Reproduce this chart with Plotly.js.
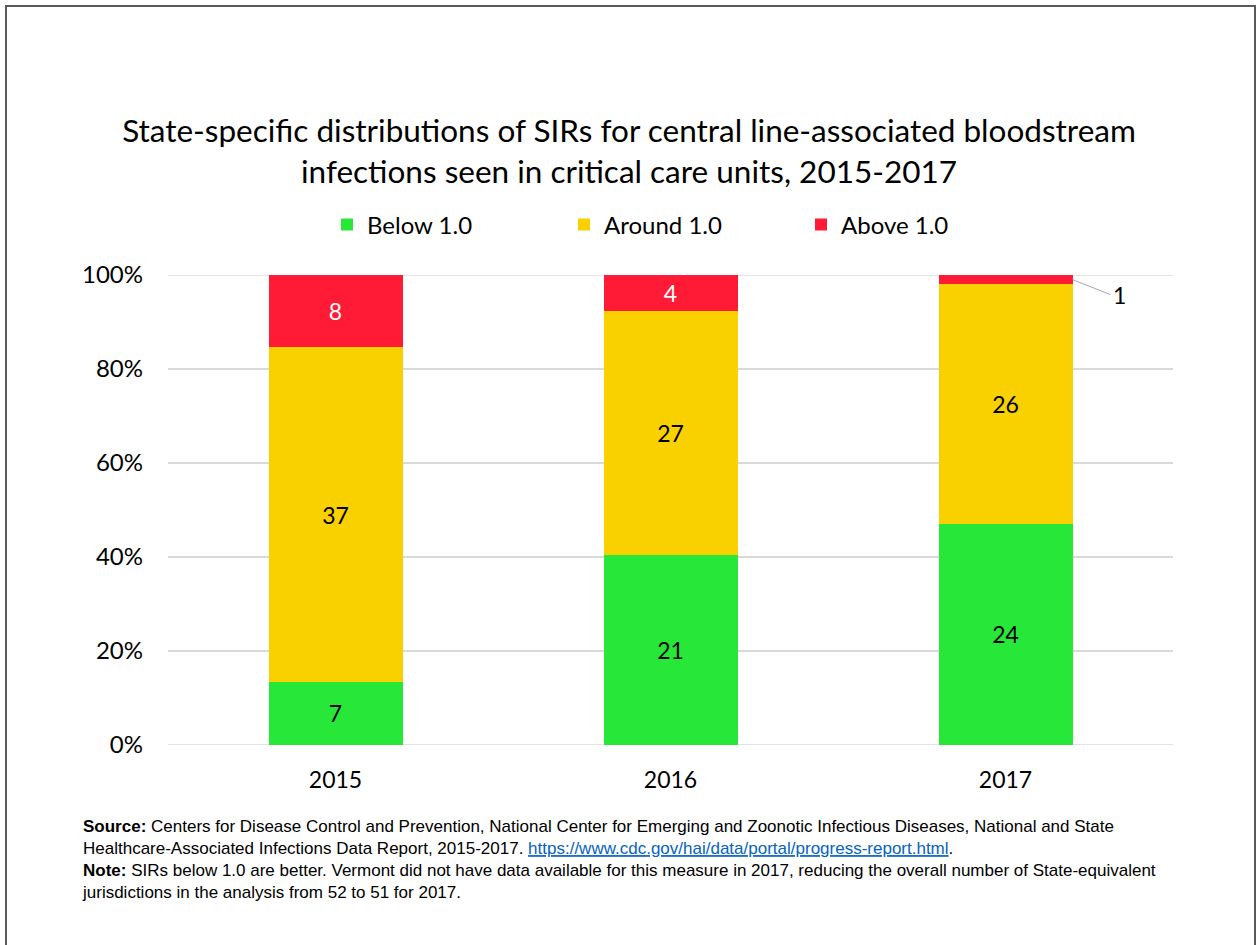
<!DOCTYPE html>
<html>
<head>
<meta charset="utf-8">
<script src="https://cdn.plot.ly/plotly-3.0.1.min.js"></script>
<style>
  html, body { margin:0; padding:0; background:#fff; }
  #wrap { position:relative; width:1258px; height:945px; overflow:hidden; }
  #chart { position:absolute; left:0; top:0; width:1258px; height:945px; }
  #frame { position:absolute; left:5px; top:5px; width:1247px; height:960px;
           border:2px solid #5a5a5a; pointer-events:none; }
</style>
</head>
<body>
<div id="wrap"><div id="chart"></div><div id="frame"></div></div>
<script>
const years = ['2015', '2016', '2017'];
const below = [7, 21, 24];
const around = [37, 27, 26];
const above = [8, 4, 1];
const seriesNames = ['Below 1.0', 'Around 1.0', 'Above 1.0'];
const seriesColors = ['#27E838', '#F9D100', '#FF1A35'];
const yTickVals = [0, 20, 40, 60, 80, 100];
const yTickText = ['0%', '20%', '40%', '60%', '80%', '100%'];

const mainFont = 'Lato, "Open Sans", sans-serif';
const noteFont = '"Liberation Sans Narrow", "Liberation Sans", Arial, sans-serif';

const seriesValues = [below, around, above];
const traces = seriesValues.map((vals, i) => {
  const textColors = vals.map(() => (i === 2 ? '#ffffff' : '#000000'));
  const txt = vals.map((v, j) => (i === 2 && j === 2) ? '' : String(v));
  return {
    type: 'bar',
    name: seriesNames[i],
    x: years,
    y: vals,
    text: txt,
    textposition: 'inside',
    insidetextanchor: 'middle',
    textangle: 0,
    textfont: { family: mainFont, size: 23, color: textColors },
    marker: { color: seriesColors[i], line: { width: 0 } },
    hoverinfo: 'skip'
  };
});

const tot2017 = below[2] + around[2] + above[2];

// gridlines at the range ends (0% and 100%) that Plotly would clip
const endGrid = [yTickVals[0], yTickVals[yTickVals.length - 1]].map(v => ({
  type: 'line', xref: 'paper', yref: 'y', x0: 0, x1: 1, y0: v, y1: v,
  line: { color: '#d9d9d9', width: 1.5 }, layer: 'below'
}));

const layout = {
  width: 1258,
  height: 945,
  paper_bgcolor: '#ffffff',
  plot_bgcolor: '#ffffff',
  barmode: 'stack',
  barnorm: 'percent',
  bargap: 0.6,
  margin: { l: 168, r: 85, t: 275, b: 200 },
  title: {
    text: 'State-specific distributions of SIRs for central line-associated bloodstream<br>infections seen in critical care units, 2015-2017',
    font: { family: mainFont, size: 31.5, color: '#000000' },
    x: 0.5, xanchor: 'center',
    y: 1 - 142 / 945, yanchor: 'middle',
    yref: 'container'
  },
  showlegend: true,
  legend: {
    orientation: 'h',
    x: (327 - 168) / 1005, xanchor: 'left',
    y: (745 - 225) / 470, yanchor: 'middle',
    font: { family: mainFont, size: 24, color: '#000000' },
    traceorder: 'normal',
    entrywidth: 192,
    entrywidthmode: 'pixels',
    itemclick: false
  },
  xaxis: {
    type: 'category',
    tickfont: { family: mainFont, size: 23, color: '#000000' },
    showgrid: false,
    zeroline: false,
    showline: false,
    ticks: '',
    ticklabelstandoff: 19
  },
  yaxis: {
    range: [0, 100],
    tickvals: yTickVals,
    ticktext: yTickText,
    tickfont: { family: mainFont, size: 24, color: '#000000' },
    showgrid: true,
    gridcolor: '#d9d9d9',
    gridwidth: 1.5,
    zeroline: false,
    showline: false,
    ticks: '',
    ticklabelstandoff: 24
  },
  shapes: endGrid,
  annotations: [
    {
      x: 2 + 0.2, y: 100 - (above[2] / tot2017) * 100 * 0.5,
      xref: 'x', yref: 'y',
      text: String(above[2]),
      showarrow: true,
      arrowhead: 0,
      arrowwidth: 1,
      arrowcolor: '#a6a6a6',
      ax: 38, ay: 15,
      xanchor: 'left',
      font: { family: mainFont, size: 23, color: '#000000' }
    },
    {
      xref: 'paper', yref: 'paper',
      x: (80 - 168) / 1005, y: -(815 - 745) / 470,
      xanchor: 'left', yanchor: 'top',
      align: 'left',
      showarrow: false,
      text: '<b>Source:</b> Centers for Disease Control and Prevention, National Center for Emerging and Zoonotic Infectious Diseases, National and State<br>' +
            'Healthcare-Associated Infections Data Report, 2015-2017. <span style="color:#0563C1"><u>https://www.cdc.gov/hai/data/portal/progress-report.html</u></span>.<br>' +
            '<b>Note:</b> SIRs below 1.0 are better. Vermont did not have data available for this measure in 2017, reducing the overall number of State-equivalent<br>' +
            'jurisdictions in the analysis from 52 to 51 for 2017.',
      font: { family: noteFont, size: 17, color: '#000000' }
    }
  ]
};

Plotly.newPlot('chart', traces, layout, { displayModeBar: false, staticPlot: true });
</script>
</body>
</html>
